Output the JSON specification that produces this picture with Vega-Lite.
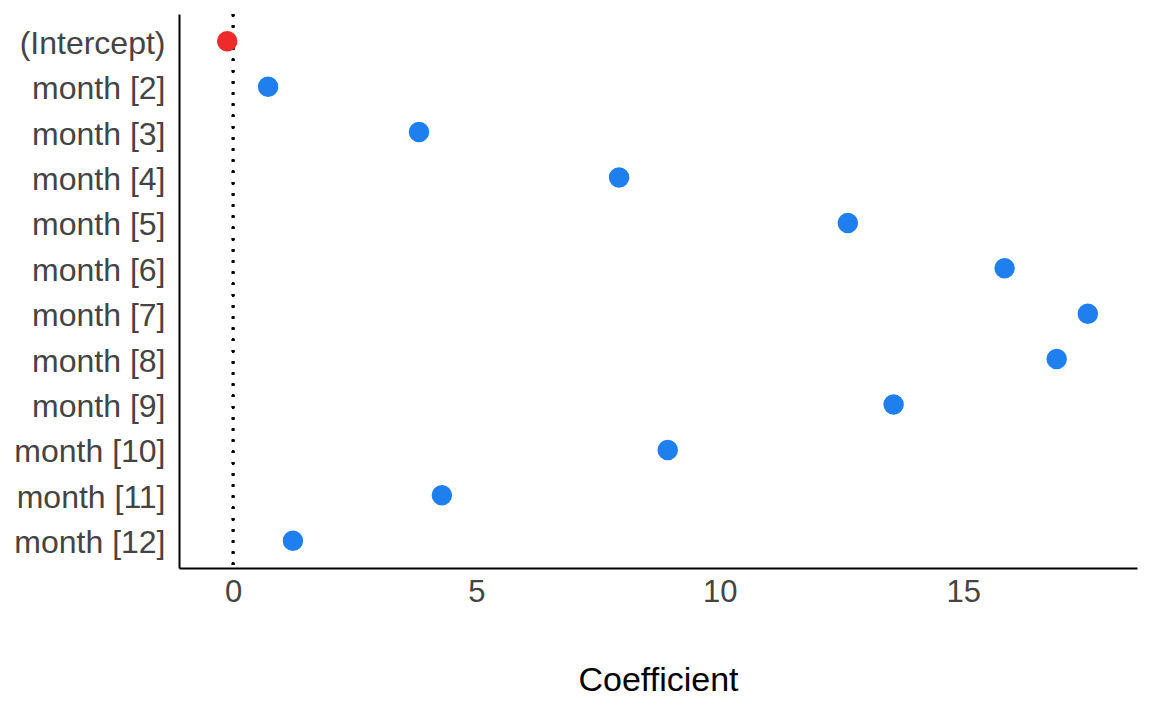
{
  "$schema": "https://vega.github.io/schema/vega-lite/v6.json",
  "width": 958,
  "height": 554,
  "autosize": {"type": "none"},
  "padding": {"left": 179, "top": 14, "right": 15, "bottom": 143},
  "background": "white",
  "config": {
    "view": {"stroke": null},
    "font": "Liberation Sans",
    "axis": {
      "grid": false,
      "ticks": false,
      "domainColor": "black",
      "domainWidth": 2,
      "labelColor": "#444444",
      "labelFontSize": 31,
      "titleColor": "black",
      "titleFontSize": 34,
      "titleFontWeight": "normal"
    }
  },
  "data": {
    "values": [
      {"term": "(Intercept)", "estimate": -0.12, "sign": "neg"},
      {"term": "month [2]", "estimate": 0.72, "sign": "pos"},
      {"term": "month [3]", "estimate": 3.82, "sign": "pos"},
      {"term": "month [4]", "estimate": 7.93, "sign": "pos"},
      {"term": "month [5]", "estimate": 12.63, "sign": "pos"},
      {"term": "month [6]", "estimate": 15.85, "sign": "pos"},
      {"term": "month [7]", "estimate": 17.56, "sign": "pos"},
      {"term": "month [8]", "estimate": 16.92, "sign": "pos"},
      {"term": "month [9]", "estimate": 13.57, "sign": "pos"},
      {"term": "month [10]", "estimate": 8.93, "sign": "pos"},
      {"term": "month [11]", "estimate": 4.29, "sign": "pos"},
      {"term": "month [12]", "estimate": 1.23, "sign": "pos"}
    ]
  },
  "layer": [
    {
      "mark": {"type": "rule", "color": "black", "strokeWidth": 2.2, "strokeDash": [2.2, 9]},
      "encoding": {
        "x": {"datum": 0, "type": "quantitative"}
      }
    },
    {
      "mark": {"type": "point", "filled": true, "shape": "circle", "size": 420, "opacity": 1},
      "encoding": {
        "x": {
          "field": "estimate",
          "type": "quantitative",
          "title": "Coefficient",
          "scale": {"domain": [-1.11, 18.57], "nice": false, "zero": false},
          "axis": {
            "values": [0, 5, 10, 15],
            "labelPadding": 9,
            "titleBaseline": "alphabetic",
            "titleY": 122
          }
        },
        "y": {
          "field": "term",
          "type": "nominal",
          "title": null,
          "sort": null,
          "scale": {"type": "point", "padding": 0.6},
          "axis": {"labelPadding": 14, "labelBaseline": "middle", "labelFontSize": 32, "labelOffset": 2}
        },
        "color": {
          "field": "sign",
          "type": "nominal",
          "legend": null,
          "scale": {"domain": ["neg", "pos"], "range": ["#EE2B2B", "#1F7FEE"]}
        }
      }
    }
  ]
}
